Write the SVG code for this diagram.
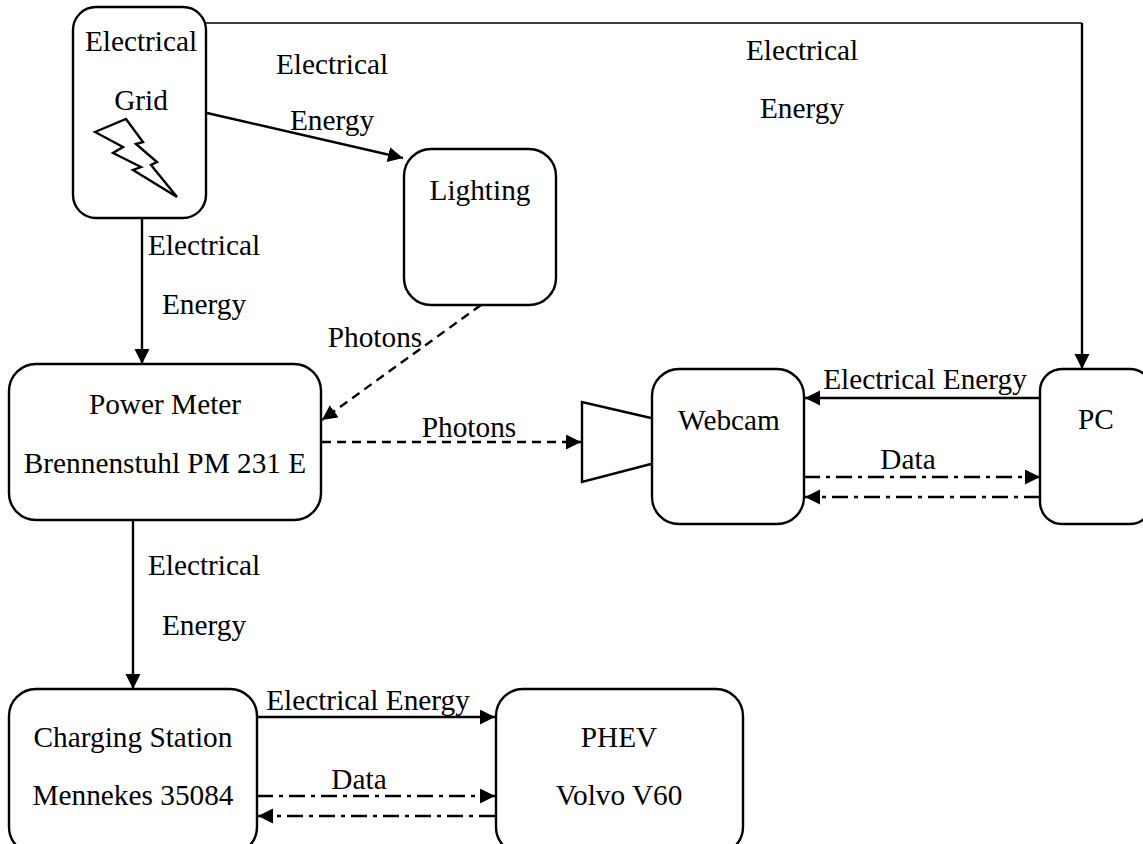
<svg xmlns="http://www.w3.org/2000/svg" width="1143" height="844" viewBox="0 0 1143 844">
<style>
text{font-family:"Liberation Serif","Times New Roman",serif;font-size:29.3px;fill:#000;text-anchor:middle}
.n{fill:#fff;stroke:#000;stroke-width:2.4}
.c{fill:none;stroke:#000;stroke-width:2.4}
.d{stroke-dasharray:9 6}
.dd{stroke-dasharray:16 6 4 6}
</style>
<defs><marker id="a" markerUnits="userSpaceOnUse" markerWidth="17" markerHeight="17" refX="15" refY="7.5" orient="auto"><path d="M0 0L15 7.5L0 15Z" fill="#000"/></marker></defs>
<rect width="1143" height="844" fill="#fff"/>
<g id="connectors">
<path class="c" style="stroke-width:1.4" d="M206 23H1082"/>
<path class="c" marker-end="url(#a)" d="M1082 23V369"/>
<path class="c" marker-end="url(#a)" d="M207 113L403 158"/>
<path class="c" marker-end="url(#a)" d="M142 218V364"/>
<path class="c d" marker-end="url(#a)" d="M481 305L322 420"/>
<path class="c d" marker-end="url(#a)" d="M322 442H581"/>
<path class="c" marker-end="url(#a)" d="M133 520V689"/>
<path class="c" marker-end="url(#a)" d="M1040 398H805"/>
<path class="c dd" marker-end="url(#a)" d="M804 477H1040"/>
<path class="c dd" marker-end="url(#a)" d="M1040 497H805"/>
<path class="c" marker-end="url(#a)" d="M257 717H495"/>
<path class="c dd" marker-end="url(#a)" d="M257 796H495"/>
<path class="c dd" marker-end="url(#a)" d="M495 816H258"/>
</g>
<g id="grid"><rect class="n" x="73" y="7" width="133" height="211" rx="23"/>
<path class="c" d="M95 132L126 119L143 142L136 144L157 162L151 165L177 197L133 170L141 167L113 153L123 147Z"/>
<text x="141" y="51">Electrical</text><text x="141" y="110">Grid</text></g>
<g id="lighting"><rect class="n" x="404" y="149" width="152" height="156" rx="27"/><text x="480" y="200">Lighting</text></g>
<g id="meter"><rect class="n" x="9" y="364" width="312" height="156" rx="27"/><text x="165" y="414">Power Meter</text><text x="165" y="473">Brennenstuhl PM 231 E</text></g>
<g id="webcam"><path class="n" d="M651 418L582 402V482L651 464"/><rect class="n" x="652" y="369" width="152" height="155" rx="27"/><text x="729" y="430">Webcam</text></g>
<g id="pc"><rect class="n" x="1040" y="369" width="112" height="155" rx="22"/><text x="1096" y="429">PC</text></g>
<g id="station"><rect class="n" x="9" y="689" width="248" height="165" rx="27"/><text x="133" y="747">Charging Station</text><text x="133" y="805">Mennekes 35084</text></g>
<g id="phev"><rect class="n" x="496" y="689" width="247" height="165" rx="27"/><text x="619" y="747">PHEV</text><text x="619" y="805">Volvo V60</text></g>
<g id="labels">
<text x="332" y="74">Electrical</text><text x="332" y="130">Energy</text>
<text x="802" y="60">Electrical</text><text x="802" y="118">Energy</text>
<text x="204" y="255">Electrical</text><text x="204" y="314">Energy</text>
<text x="375" y="347">Photons</text><text x="469" y="437">Photons</text>
<text x="925" y="389">Electrical Energy</text><text x="908" y="469">Data</text>
<text x="204" y="575">Electrical</text><text x="204" y="635">Energy</text>
<text x="368" y="710">Electrical Energy</text><text x="359" y="789">Data</text>
</g>
</svg>
